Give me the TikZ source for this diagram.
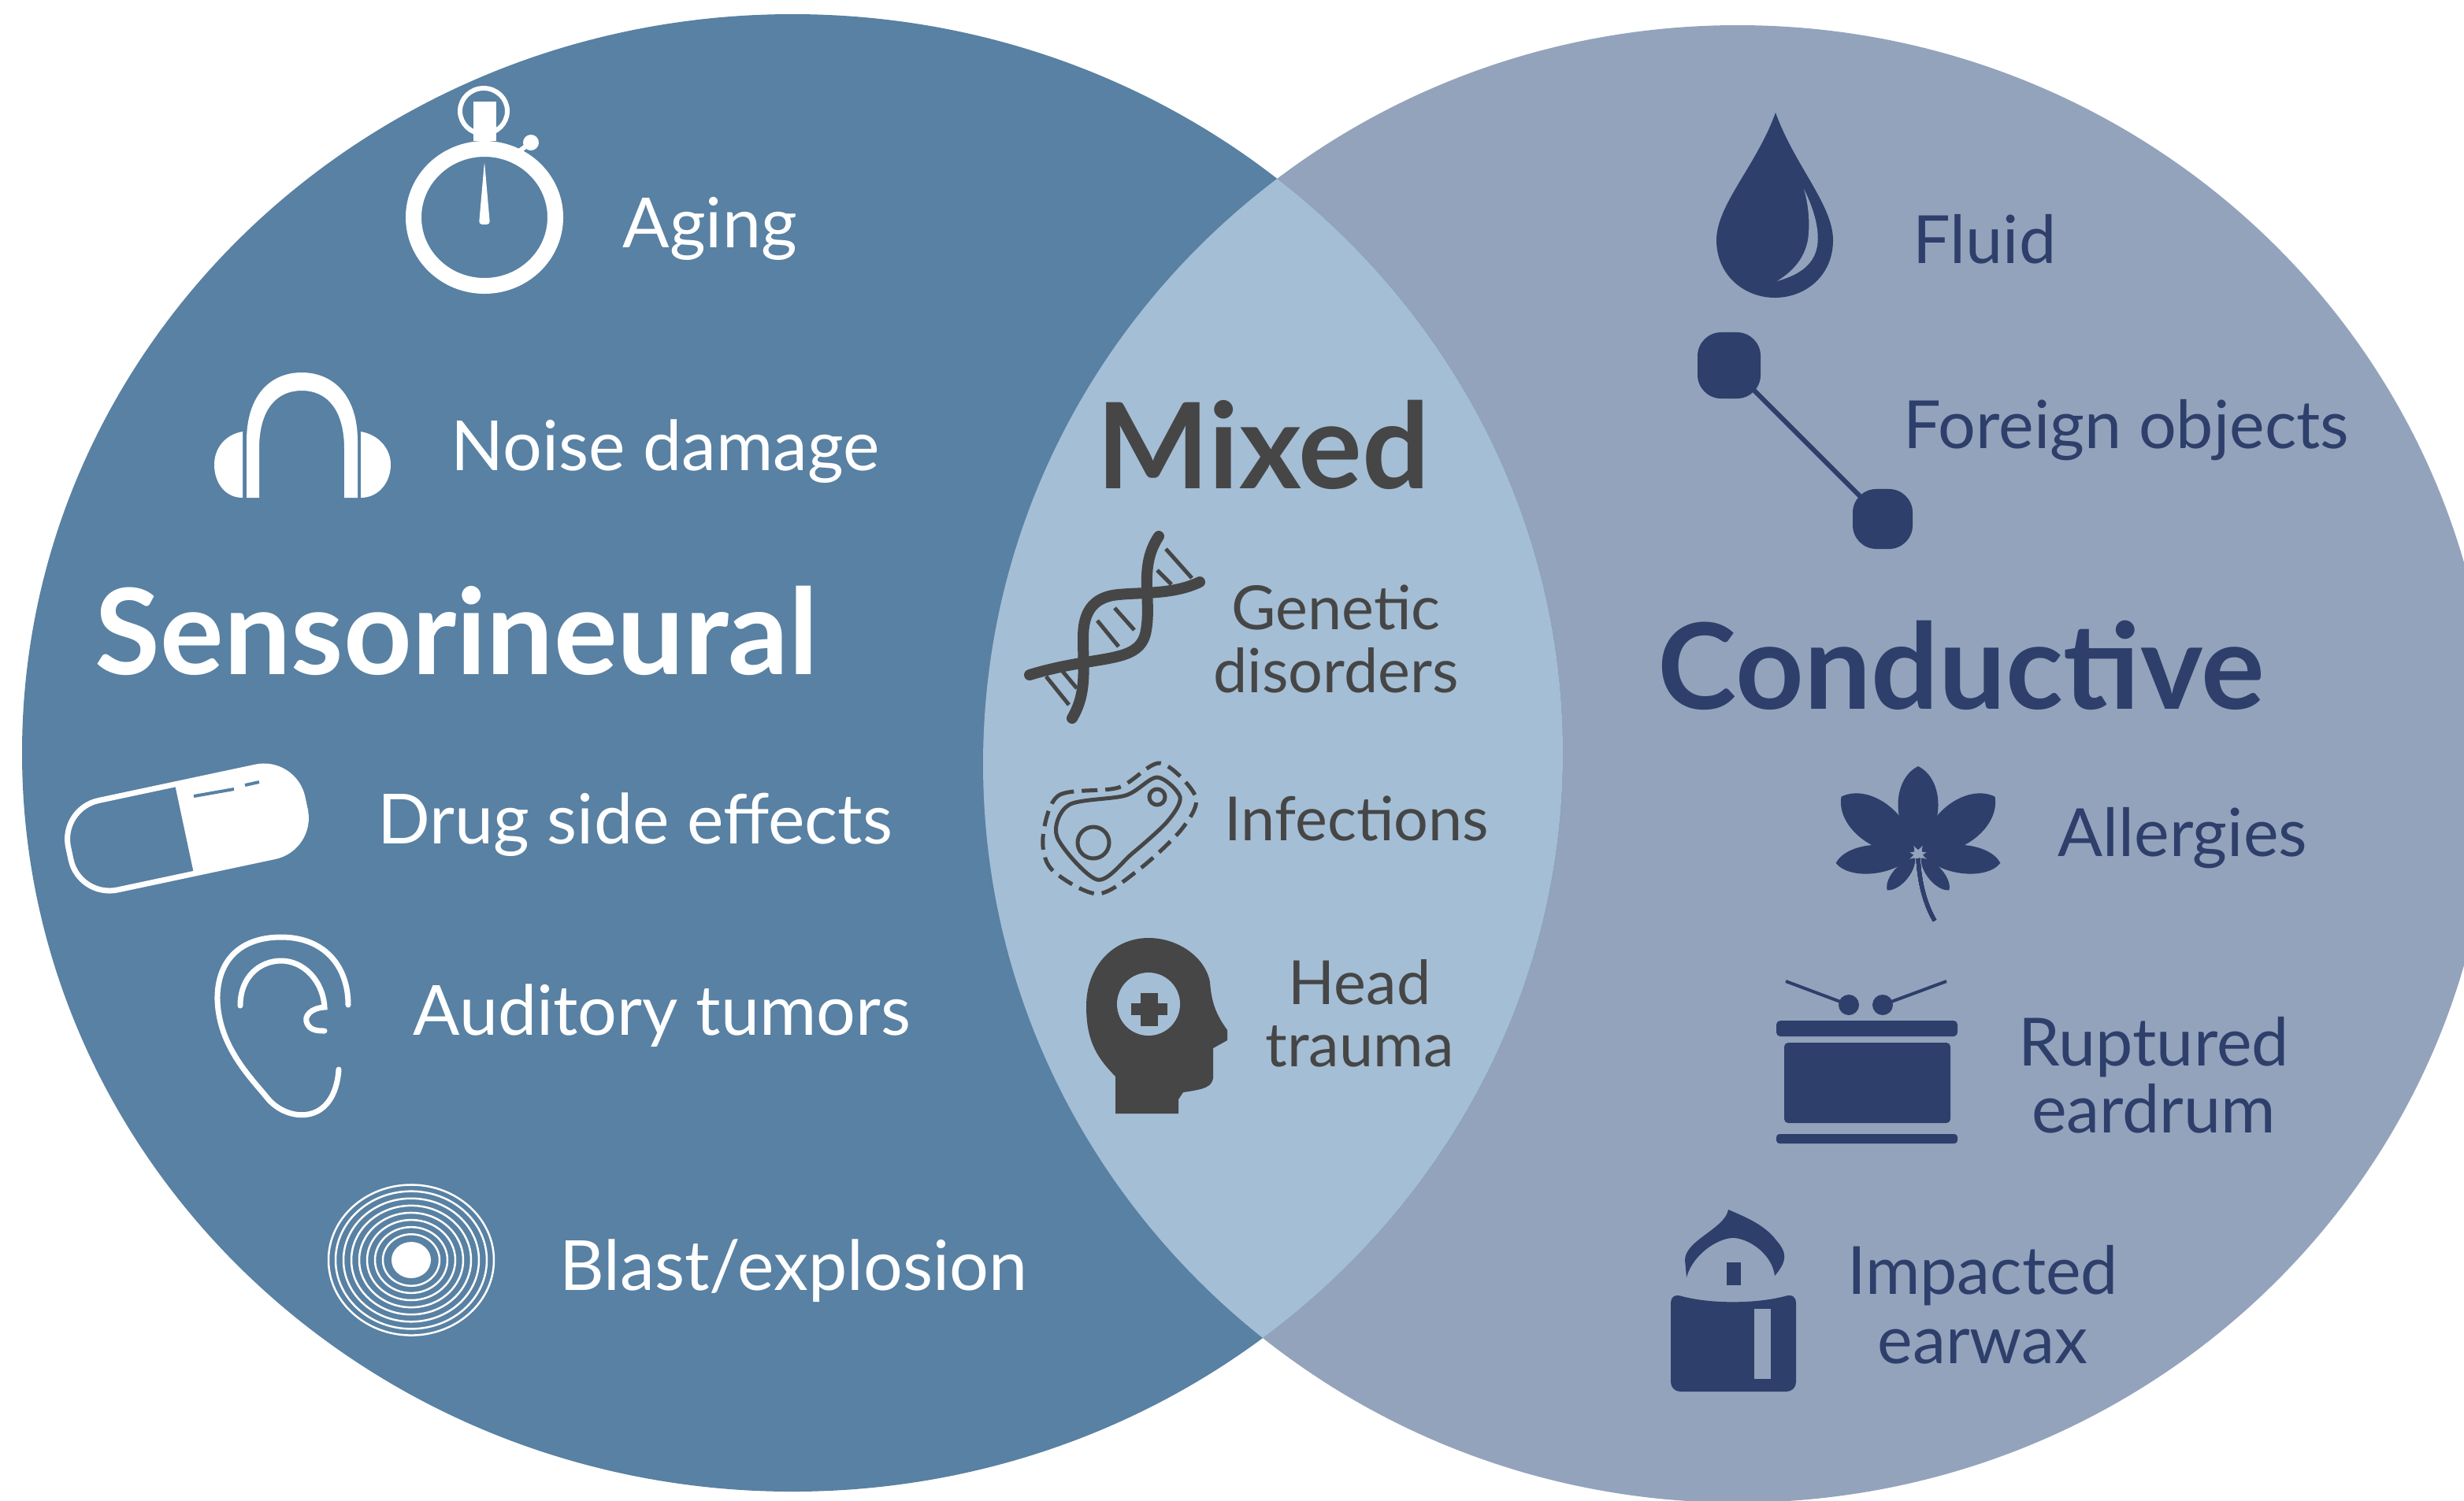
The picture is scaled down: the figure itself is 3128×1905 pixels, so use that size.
\documentclass[tikz,border=0pt]{standalone}
\usepackage{fontspec}
\setmainfont{Lato}
\usepackage{xcolor}
\usetikzlibrary{positioning}
\definecolor{sensoblue}{RGB}{88,129,163}
\definecolor{conductblue}{RGB}{147,163,188}
\definecolor{mixedblue}{RGB}{164,190,213}
\definecolor{navy}{RGB}{45,63,106}
\definecolor{gray70}{RGB}{70,70,70}
\tikzset{
  causetext/.style={inner sep=0pt, anchor=base west, font=\fontsize{25}{31}\selectfont},
  causepair/.style={inner sep=0pt, anchor=base, align=center},
  headtext/.style={inner sep=0pt, anchor=base west, font=\fontsize{43}{50}\selectfont\bfseries},
  sensotext/.style={causetext, text=white},
  conducttext/.style={causetext, text=navy},
  mixedtext/.style={causetext, text=gray70},
  blob/.style={fill=navy, rounded corners=0.3cm, inner sep=0pt, minimum width=0.8cm, minimum height=0.84cm}
}
\newcommand{\leaflet}[3]{
  \fill[navy, shift={(2435,1085)}, rotate=#1]
    (0,-6) .. controls (#3,-0.3*#2) and (#3,-0.85*#2) .. (0,-#2)
    .. controls (-#3,-0.85*#2) and (-#3,-0.3*#2) .. (0,-6) -- cycle;
}
\begin{document}
\begin{tikzpicture}[x=0.01cm, y=-0.01cm]
    \clip (0,0) rectangle (3128,1905);
    \fill[conductblue] (2206,970) ellipse (958 and 938);
    \fill[sensoblue] (1006,956) ellipse (978 and 938);
    \begin{scope}
      \clip (1006,956) ellipse (978 and 938);
      \fill[mixedblue] (2206,970) ellipse (958 and 938);
    \end{scope}

    \node[headtext, text=white] (sensorineural) at (120,856) {Sensorineural};
    \node[headtext, text=gray70] (mixed) at (1392,620) {Mixed};
    \node[headtext, text=navy] (conductive) at (2104,900) {Conductive};

    \node[sensotext] (aging) at (790,314) {Aging};
    \node[sensotext] (noise) at (572,597) {Noise damage};
    \node[sensotext] (drug) at (479,1071) {Drug side effects};
    \node[sensotext] (tumors) at (524,1314) {Auditory tumors};
    \node[sensotext] (blast) at (710,1638) {Blast/explosion};

    \node[causepair, text=gray70, font=\fontsize{22}{22.7}\selectfont] (genetic) at (1696,879) {Genetic\\disorders};
    \node[mixedtext, font=\fontsize{22}{26}\selectfont] (infections) at (1554,1067) {Infections};
    \node[causepair, text=gray70, font=\fontsize{22}{22.4}\selectfont] (trauma) at (1726,1354) {Head\\trauma};

    \node[conducttext, font=\fontsize{24}{30}\selectfont] (fluid) at (2428,334) {Fluid};
    \node[conducttext, font=\fontsize{24}{30}\selectfont] (foreign) at (2416,569) {Foreign objects};
    \node[conducttext, font=\fontsize{24}{30}\selectfont] (allergies) at (2612,1087) {Allergies};
    \node[causepair, text=navy, font=\fontsize{24}{24.1}\selectfont] (eardrum) at (2734,1438) {Ruptured\\eardrum};
    \node[causepair, text=navy, font=\fontsize{24}{25}\selectfont] (earwax) at (2517,1731) {Impacted\\earwax};

    % stopwatch
    \draw[white, line width=0.2cm] (615,276) ellipse (90 and 87);
    \draw[white, line width=0.06cm] (614,141) ellipse (30 and 29);
    \fill[white] (601,129) rectangle (630,179);
    \draw[white, line width=0.06cm] (655,195) -- (674,181);
    \fill[white] (674,181) circle (10);
    \fill[white, rounded corners=0.04cm] (615,205) -- (622,285) -- (608,285) -- cycle;

    % headphones
    \fill[white] (313,632) -- (313,560) .. controls (313,500) and (345,473) .. (383,473)
      .. controls (421,473) and (454,500) .. (454,560) -- (454,632) -- (437,632) -- (437,570)
      .. controls (437,520) and (415,496) .. (383,496) .. controls (351,496) and (329,520) .. (329,570)
      -- (329,632) -- cycle;
    \fill[white] (308,548) .. controls (285,552) and (272,570) .. (272,590)
      .. controls (272,612) and (285,632) .. (308,632) -- cycle;
    \fill[white] (458,548) .. controls (481,552) and (496,570) .. (496,590)
      .. controls (496,612) and (481,632) .. (458,632) -- cycle;

    % capsule
    \begin{scope}[shift={(237,1052)}, rotate=12]
      \draw[white, line width=0.07cm, rounded corners=0.5cm] (-152,-58) rectangle (152,58);
      \fill[white] (-3,-58) [rounded corners=0.5cm] -- (152,-58) -- (152,58) [sharp corners] -- (-3,58) -- cycle;
    \end{scope}
    \draw[sensoblue, line width=0.04cm] (246,1011) -- (297,1002);
    \draw[sensoblue, line width=0.04cm] (311,997) -- (329,993);

    % ear
    \draw[white, line width=0.07cm, line cap=round] (442,1276) .. controls (442,1225) and (410,1190) .. (357,1190)
      .. controls (300,1190) and (275,1225) .. (276,1270) .. controls (278,1330) and (320,1370) .. (340,1395)
      .. controls (365,1425) and (425,1430) .. (430,1358);
    \draw[white, line width=0.07cm, line cap=round] (305,1277) .. controls (305,1240) and (330,1220) .. (357,1220)
      .. controls (385,1220) and (410,1245) .. (412,1279) .. controls (395,1280) and (385,1290) .. (390,1300)
      .. controls (394,1308) and (402,1309) .. (412,1309);

    % blast rings
    \foreach \ringr in {36,46,56,66,76,86,96,105}
      \draw[white, line width=0.025cm] (522,1600) ellipse ({\ringr} and {0.91*\ringr});
    \fill[white] (522,1600) ellipse (25 and 23);

    % dna
    \draw[gray70, line width=0.14cm, line cap=round] (1471,681) .. controls (1445,720) and (1462,760) .. (1455,800)
      .. controls (1448,845) and (1395,830) .. (1307,857);
    \draw[gray70, line width=0.14cm, line cap=round] (1523,739) .. controls (1490,755) and (1450,752) .. (1420,755)
      .. controls (1385,758) and (1375,780) .. (1375,810) .. controls (1375,850) and (1380,880) .. (1361,912);
    \foreach \rungax/\rungay/\rungbx/\rungby in {1480/697/1513/734, 1469/724/1487/742, 1393/788/1420/821,
        1415/772/1440/800, 1328/859/1357/895, 1346/849/1367/874}
      \draw[gray70, line width=0.05cm] (\rungax,\rungay) -- (\rungbx,\rungby);

    % bacterium
    \draw[gray70, line width=0.05cm] plot[smooth cycle] coordinates {(1342,1063) (1357,1022) (1429,1010) (1469,987)
      (1498,1012) (1482,1043) (1437,1084) (1393,1117)};
    \draw[gray70, line width=0.05cm, dash pattern=on 0.2cm off 0.1cm] plot[smooth cycle] coordinates {(1324,1063) (1344,1010)
      (1420,1000) (1473,969) (1518,1012) (1500,1053) (1446,1104) (1393,1135) (1335,1104)};
    \draw[gray70, line width=0.05cm] (1388,1070) circle (20);
    \draw[gray70, line width=0.05cm] (1469,1012) circle (10);

    % head
    \fill[gray70] (1416,1414) -- (1416,1367) .. controls (1395,1345) and (1379,1325) .. (1379,1278)
      .. controls (1379,1225) and (1415,1191) .. (1458,1191) .. controls (1495,1191) and (1530,1215) .. (1536,1247)
      .. controls (1538,1275) and (1545,1290) .. (1558,1308) -- (1558,1321) -- (1540,1331) -- (1540,1369)
      .. controls (1538,1380) and (1530,1383) .. (1502,1387) -- (1496,1396) -- (1496,1414) -- cycle;
    \fill[mixedblue] (1458,1275) circle (40);
    \fill[gray70] (1448,1261) rectangle (1470,1303);
    \fill[gray70] (1436,1274) rectangle (1482,1289);

    % drop
    \fill[navy] (2254,143) .. controls (2230,210) and (2179,260) .. (2179,305)
      .. controls (2179,350) and (2215,378) .. (2253,378) .. controls (2292,378) and (2327,350) .. (2327,305)
      .. controls (2327,260) and (2278,210) .. (2254,143) -- cycle;
    \fill[conductblue] (2290,240) .. controls (2305,270) and (2312,300) .. (2305,320)
      .. controls (2298,340) and (2280,350) .. (2256,357) .. controls (2275,345) and (2290,330) .. (2295,305)
      .. controls (2298,285) and (2296,260) .. (2290,240) -- cycle;

    % foreign object
    \node[blob] (blobtop) at (2195,464) {};
    \node[blob, minimum width=0.76cm, minimum height=0.76cm] (blobbottom) at (2390,659) {};
    \draw[navy, line width=0.06cm] (blobtop.center) -- (blobbottom.center);

    % leaf
    \foreach \leafang/\leaflen/\leafwid in {0/112/34, 53/122/36, -53/122/36, 96/105/24, -96/105/24, 139/60/13, -139/60/13}
      \leaflet{\leafang}{\leaflen}{\leafwid}
    \draw[navy, line width=0.05cm] (2435,1090) .. controls (2437,1125) and (2445,1150) .. (2456,1169);

    % drum
    \fill[navy, rounded corners=0.05cm] (2255,1296) rectangle (2485,1316);
    \fill[navy, rounded corners=0.05cm] (2265,1324) rectangle (2476,1426);
    \fill[navy, rounded corners=0.04cm] (2255,1440) rectangle (2485,1452);
    \draw[navy, line width=0.04cm] (2267,1246) -- (2347,1276);
    \draw[navy, line width=0.04cm] (2471,1246) -- (2390,1276);
    \fill[navy] (2347,1276) circle (13);
    \fill[navy] (2390,1276) circle (13);

    % candle
    \fill[navy] (2194,1536) .. controls (2190,1560) and (2139,1575) .. (2139,1600) -- (2141,1622)
      .. controls (2150,1590) and (2185,1570) .. (2203,1572) .. controls (2225,1575) and (2250,1595) .. (2253,1620)
      .. controls (2270,1600) and (2268,1590) .. (2255,1575) .. controls (2240,1555) and (2215,1545) .. (2194,1536) -- cycle;
    \fill[navy] (2192,1603) rectangle (2210,1632);
    \fill[navy, rounded corners=0.12cm] (2121,1642) .. controls (2170,1656) and (2230,1656) .. (2280,1642)
      -- (2280,1767) -- (2121,1767) -- cycle;
    \fill[conductblue] (2227,1662) rectangle (2248,1751);
  \end{tikzpicture}
\end{document}
